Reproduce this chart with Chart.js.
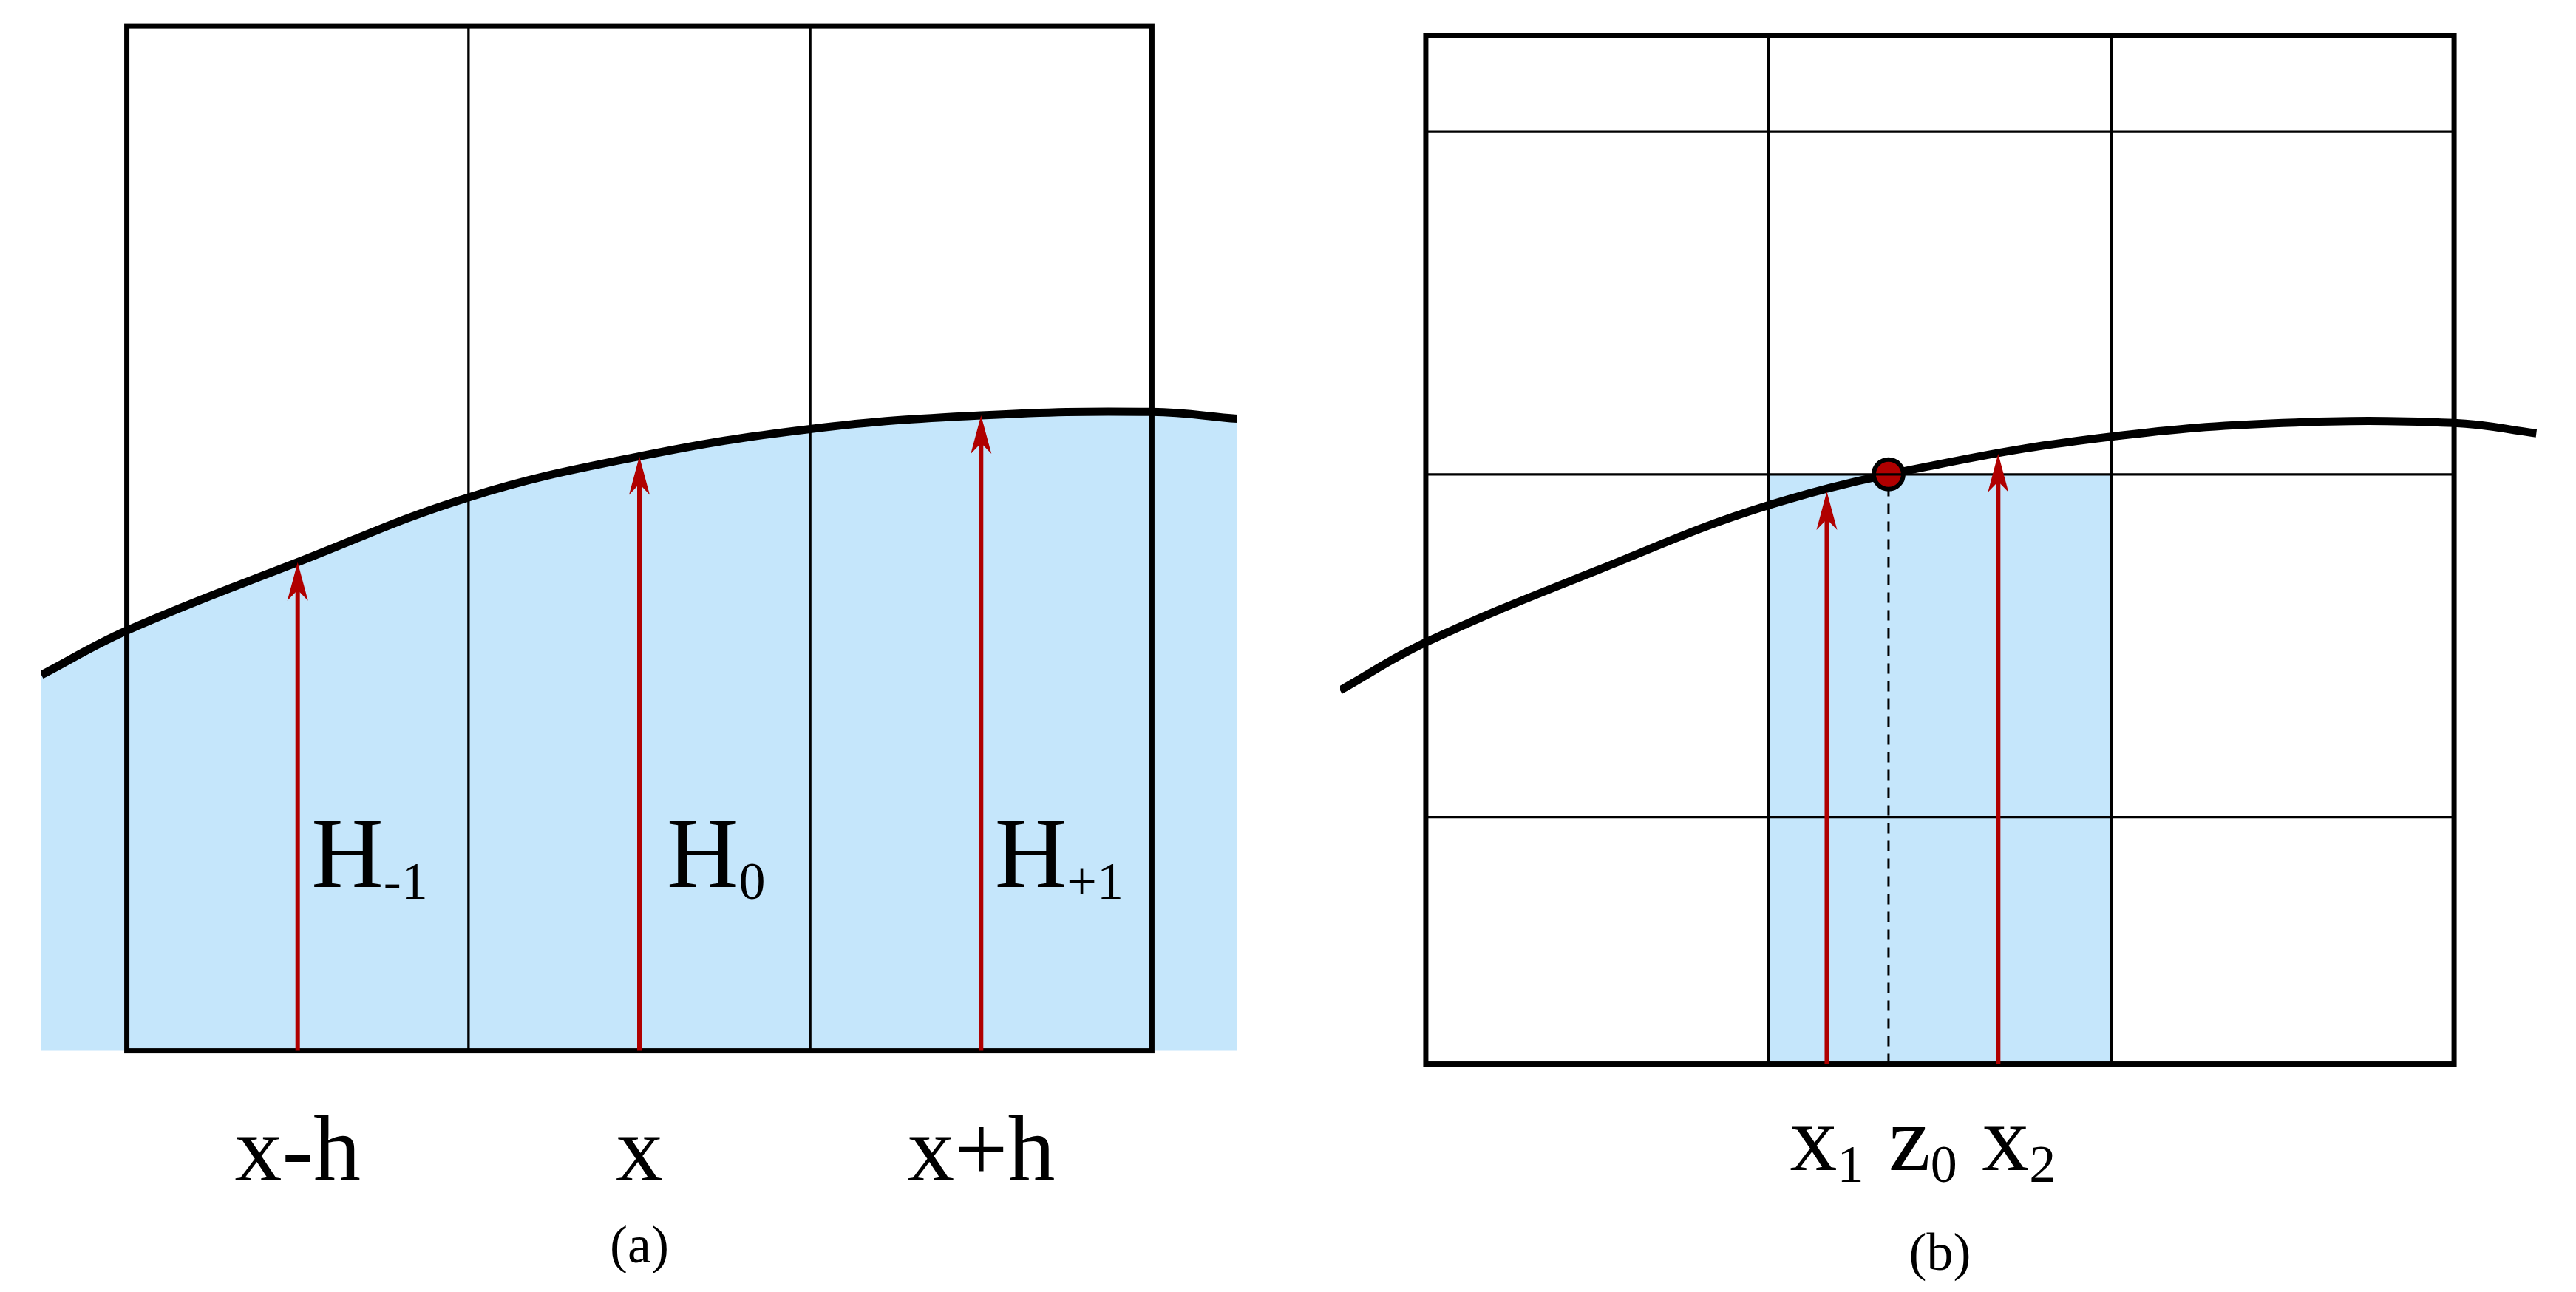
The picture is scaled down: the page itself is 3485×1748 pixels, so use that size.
<!DOCTYPE html>
<html><head><meta charset="utf-8">
<script src="https://cdn.jsdelivr.net/npm/chart.js@4/dist/chart.umd.min.js"></script>
<style>html,body{margin:0;background:#fff;width:3485px;height:1748px;overflow:hidden}canvas{position:absolute}</style>
</head><body>
<canvas id="ca"></canvas><canvas id="cb"></canvas>
<script>
// data in grid-cell units (one cell = one unit)
const curveA = [[-0.25,1.10],[0,1.23],[0.5,1.43],[1,1.62],[1.5,1.74],[2,1.82],[2.5,1.86],[3,1.87],[3.25,1.85]];
const arrowsA = [[0.5,1.43],[1.5,1.74],[2.5,1.86]];
const hLabelsA = [['H','-1',0.54],['H','0',1.58],['H','+1',2.54]];
const xLabelsA = [['x-h',0.5],['x',1.5],['x+h',2.5]];
const curveB = [[-0.25,1.09],[0,1.23],[0.5,1.44],[1,1.63],[1.5,1.75],[2,1.83],[2.5,1.87],[3,1.87],[3.24,1.84]];
const arrowsB = [[1.17,1.67],[1.67,1.78]];
const gridB = [0.72,1.72,2.72];
const z0 = [1.35,1.72];
const xLabelsB = [['x','1',1.17],['z','0',1.45],['x','2',1.73]];

const S = 3485/1568;
const RED = '#b00000', BLUE = '#c5e6fb';
const serif = '"Liberation Serif","DejaVu Serif",serif';

function place(id, ox, oy, unit){
  const c = document.getElementById(id);
  const l = (ox-0.25*unit)*S, t = (oy-3.05*unit)*S;
  c.width = Math.round(3.5*unit*S); c.height = Math.round(3.7*unit*S);
  c.style.left = l+'px'; c.style.top = t+'px';
  return c;
}
const pts = a => a.map(p=>({x:p[0],y:p[1]}));

function overlay(cfg){
  return {id:'ov', afterDatasetsDraw(ch){
    const ctx = ch.ctx, X = ch.scales.x, Y = ch.scales.y;
    const px = v=>X.getPixelForValue(v), py = v=>Y.getPixelForValue(v);
    ctx.save(); ctx.strokeStyle='#000';
    ctx.lineWidth = 3.3;
    ctx.beginPath();
    [1,2].forEach(v=>{ctx.moveTo(px(v),py(0));ctx.lineTo(px(v),py(3));});
    (cfg.hgrid||[]).forEach(v=>{ctx.moveTo(px(0),py(v));ctx.lineTo(px(3),py(v));});
    ctx.stroke();
    ctx.lineWidth = 7; ctx.strokeRect(px(0),py(3),px(3)-px(0),py(0)-py(3));
    cfg.arrows.forEach(([x,top])=>{
      const xx=px(x), yt=py(top), hl=52, hw=14;
      ctx.strokeStyle=RED; ctx.fillStyle=RED; ctx.lineWidth=6;
      ctx.beginPath(); ctx.moveTo(xx,py(0)); ctx.lineTo(xx,yt+hl*0.7); ctx.stroke();
      ctx.beginPath(); ctx.moveTo(xx,yt); ctx.lineTo(xx-hw,yt+hl); ctx.lineTo(xx,yt+hl*0.72); ctx.lineTo(xx+hw,yt+hl); ctx.closePath(); ctx.fill();
    });
    ctx.fillStyle='#000'; ctx.textBaseline='alphabetic';
    cfg.draw(ctx,px,py);
    ctx.restore();
  }};
}
function sub(ctx,x,y,main,s,big,small,align){
  ctx.font = big+'px '+serif; const w1=ctx.measureText(main).width;
  ctx.font = small+'px '+serif; const w2=ctx.measureText(s).width;
  let x0 = align==='center' ? x-(w1+w2)/2 : x;
  ctx.textAlign='left';
  ctx.font = big+'px '+serif; ctx.fillText(main,x0,y);
  ctx.font = small+'px '+serif; ctx.fillText(s,x0+w1,y+big*0.12);
}
function make(id, ox, oy, unit, datasets, cfg){
  const c = place(id, ox, oy, unit);
  return new Chart(c,{type:'line',data:{datasets},
    options:{responsive:false,devicePixelRatio:1,animation:false,events:[],
      layout:{padding:0,autoPadding:false},plugins:{legend:{display:false},tooltip:{enabled:false}},
      scales:{x:{type:'linear',min:-0.25,max:3.25,display:false},y:{type:'linear',min:-0.65,max:3.05,display:false}}},
    plugins:[overlay(cfg)]});
}
const curveDs = d => ({data:pts(d),borderColor:'#000',borderWidth:11,pointRadius:0,tension:0.4,fill:false,order:0});

make('ca',77,640,208,[
  curveDs(curveA),
  {data:pts(curveA),borderWidth:0,pointRadius:0,tension:0.4,fill:{value:0},backgroundColor:BLUE,order:2,clip:false,
   segment:{}}
],{arrows:arrowsA,draw(ctx,px,py){
  hLabelsA.forEach(([m,s,x])=>sub(ctx,px(x),py(0.48),m,s,135,72,'left'));
  ctx.textAlign='center'; ctx.font='128px '+serif;
  xLabelsA.forEach(([t,x])=>ctx.fillText(t,px(x),py(-0.38)));
  ctx.font='72px '+serif; ctx.fillText('(a)',px(1.5),py(-0.62));
}});

// clip panel (a) fill to the box
Chart.register({id:'clipfill',beforeDatasetDraw(ch,args){
  if(ch.canvas.id==='ca' && args.index===1){const X=ch.scales.x,Y=ch.scales.y;ch.ctx.save();ch.ctx.beginPath();
    ch.ctx.rect(X.getPixelForValue(0),Y.getPixelForValue(3),X.getPixelForValue(3)-X.getPixelForValue(0),Y.getPixelForValue(0)-Y.getPixelForValue(3));ch.ctx.clip();}},
  afterDatasetDraw(ch,args){if(ch.canvas.id==='ca' && args.index===1)ch.ctx.restore();}});
Chart.getChart('ca').update();

make('cb',868,648,208.7,[
  curveDs(curveB),
  {data:pts([[1,gridB[1]],[2,gridB[1]]]),borderWidth:0,pointRadius:0,fill:{value:0},backgroundColor:BLUE,order:2},
  {data:pts([[z0[0],0],z0]),borderColor:'#000',borderWidth:3,borderDash:[14,10],pointRadius:0,order:1},
  {data:pts([z0]),showLine:false,pointRadius:20,pointBackgroundColor:RED,pointBorderColor:'#000',pointBorderWidth:6,order:-1}
],{arrows:arrowsB,hgrid:gridB,draw(ctx,px,py){
  xLabelsB.forEach(([m,s,x])=>sub(ctx,px(x),py(-0.31),m,s,128,72,'center'));
  ctx.textAlign='center'; ctx.font='72px '+serif; ctx.fillText('(b)',px(1.5),py(-0.6));
}});
</script></body></html>
